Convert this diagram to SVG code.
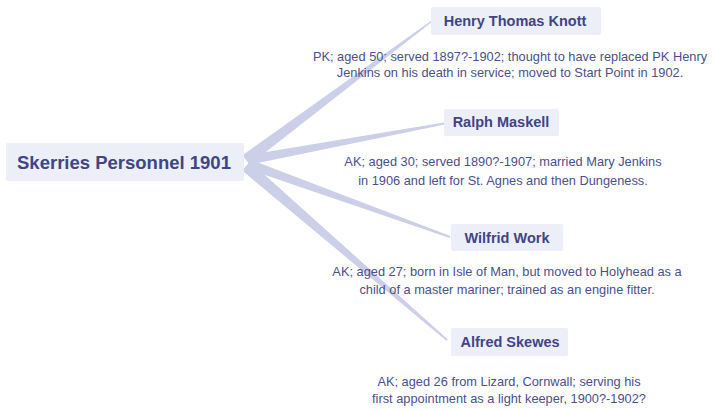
<svg xmlns="http://www.w3.org/2000/svg" width="715" height="410" viewBox="0 0 715 410">
<style>
.box{fill:#eceef8;}
.title{font-family:"Liberation Sans",Arial,sans-serif;font-weight:bold;fill:#3f4585;text-anchor:middle;}
.desc{font-family:"Liberation Sans",Arial,sans-serif;font-size:12.8px;fill:#4a4f8e;text-anchor:middle;}
.br{fill:#cbcfe8;}
</style>
<rect width="715" height="410" fill="#ffffff"/>
<g id="connectors">
<polygon class="br" points="242.4,155.2 431.5,20.4 432.5,21.6 249.6,164.8"/>
<polygon class="br" points="247.1,155.1 446.8,122.0 447.2,124.0 248.9,164.9"/>
<polygon class="br" points="249.7,159.3 450.3,236.1 449.7,237.9 246.3,168.7"/>
<polygon class="br" points="249.9,161.5 447.65,339.24 446.35,340.76 242.1,170.5"/>
</g>
<g id="root">
<rect class="box" x="6" y="143" width="238" height="38" rx="2"/>
<text class="title" x="124" y="169" font-size="18.5">Skerries Personnel 1901</text>
</g>
<g id="henry">
<rect class="box" x="431" y="7" width="170" height="28" rx="2"/>
<text class="title" x="515" y="26" font-size="14.5">Henry Thomas Knott</text>
<text class="desc" x="510" y="61">PK; aged 50; served 1897?-1902; thought to have replaced PK Henry</text>
<text class="desc" x="510" y="77">Jenkins on his death in service; moved to Start Point in 1902.</text>
</g>
<g id="ralph">
<rect class="box" x="444" y="109" width="115" height="27" rx="2"/>
<text class="title" x="501" y="127" font-size="14.5">Ralph Maskell</text>
<text class="desc" x="503" y="166">AK; aged 30; served 1890?-1907; married Mary Jenkins</text>
<text class="desc" x="503" y="185">in 1906 and left for St. Agnes and then Dungeness.</text>
</g>
<g id="wilfrid">
<rect class="box" x="451" y="224" width="112" height="27" rx="2"/>
<text class="title" x="507" y="243" font-size="14.5">Wilfrid Work</text>
<text class="desc" x="507" y="276">AK; aged 27; born in Isle of Man, but moved to Holyhead as a</text>
<text class="desc" x="507" y="294">child of a master mariner; trained as an engine fitter.</text>
</g>
<g id="alfred">
<rect class="box" x="451" y="328" width="117" height="28" rx="2"/>
<text class="title" x="510" y="347" font-size="14.5">Alfred Skewes</text>
<text class="desc" x="509" y="386">AK; aged 26 from Lizard, Cornwall; serving his</text>
<text class="desc" x="509" y="403">first appointment as a light keeper, 1900?-1902?</text>
</g>
</svg>
